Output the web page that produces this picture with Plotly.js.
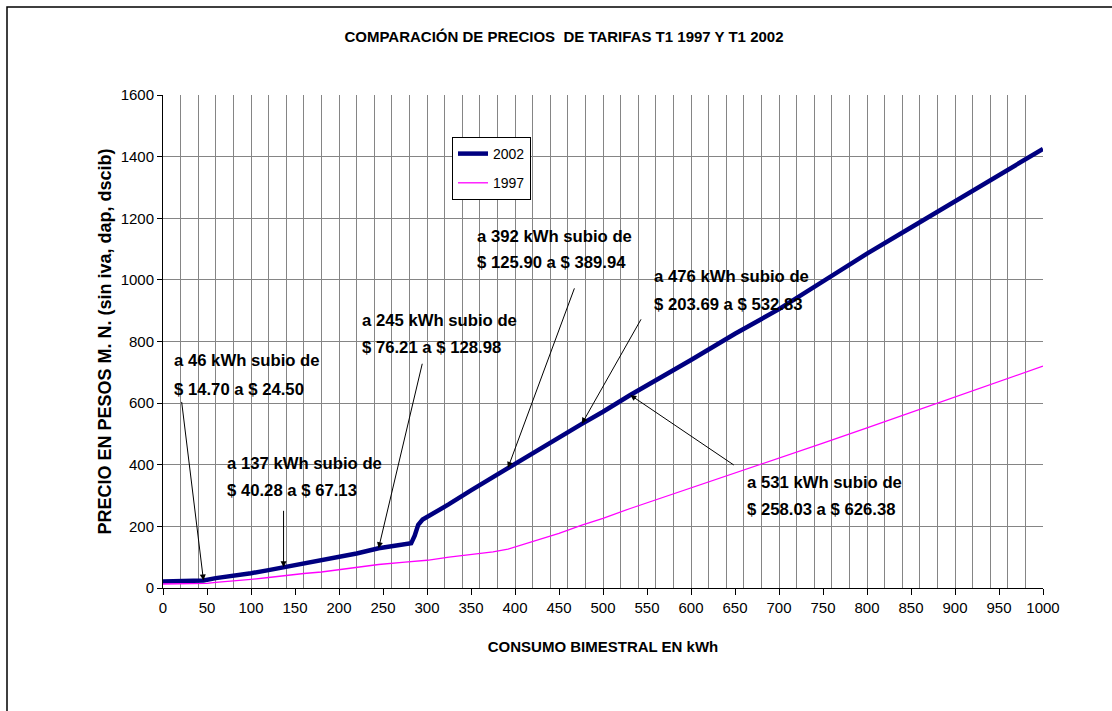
<!DOCTYPE html>
<html>
<head>
<meta charset="utf-8">
<script src="https://cdn.plot.ly/plotly-3.0.1.min.js"></script>
<style>html,body{margin:0;padding:0;background:#fff;}#chart{width:1112px;height:711px;}</style>
</head>
<body>
<div id="chart"></div>
<script>
// ---- data ----
const kwh2002 = [0, 40, 46, 60, 80, 100, 120, 137, 160, 180, 200, 220, 245, 260, 275, 282, 286, 290, 295, 300, 325, 350, 392, 425, 450, 476, 500, 531, 600, 650, 700, 750, 800, 850, 900, 950, 1000];
const price2002 = [21, 21, 24.5, 32, 39, 48, 58, 67.13, 80, 88, 100, 112, 128.98, 135, 140, 145, 170, 205, 222, 230, 272, 317, 389.94, 447, 490, 532.83, 572, 626.38, 740, 825, 905, 995, 1085, 1170, 1255, 1340, 1425];

const kwh1997 = [0, 46, 50, 60, 80, 100, 120, 137, 160, 180, 200, 220, 245, 275, 300, 325, 350, 375, 392, 410, 432, 450, 476, 500, 531, 600, 650, 700, 750, 800, 850, 900, 950, 1000];
const price1997 = [13, 14.70, 15, 18, 22, 28, 34, 40.28, 47, 52, 60, 66, 76.21, 84, 90, 100, 109, 117, 125.90, 141, 161, 177, 203.69, 226, 258.03, 325, 372, 420, 470, 520, 570, 620, 670, 720];

// annotated points
const annKwh = [46, 137, 245, 392, 476, 531];
const annOld = [14.70, 40.28, 76.21, 125.90, 203.69, 258.03];
const annNew = [24.50, 67.13, 128.98, 389.94, 532.83, 626.38];

const xTicks = [0,50,100,150,200,250,300,350,400,450,500,550,600,650,700,750,800,850,900,950,1000];
const yTicks = [0,200,400,600,800,1000,1200,1400,1600];

// ---- layout helpers (pixel geometry of plot area) ----
const L = 163, R = 69, T = 95, B = 123, W = 1112, H = 711;
const PW = W - L - R, PH = H - T - B;
const px2x = p => (p - L) / PW;
const py2y = p => (H - B - p) / PH;

const FONT = 'Liberation Sans, Arial, sans-serif';

// arrow tail offsets (pixels) and text positions (pixels)
const arrowOff = [[-22, -180], [0, -58], [44, -186], [67, -181], [60, -106], [105, 71]];
const textPos = [[172, 360, 389], [225, 463, 490], [360, 320, 347], [475, 236, 262], [652, 276, 304], [745, 482, 509]];

const annotations = [];
annKwh.forEach((k, i) => {
  annotations.push({
    x: k, y: annNew[i], xref: 'x', yref: 'y', text: '',
    showarrow: true, arrowhead: 2, arrowsize: 1.2, arrowwidth: 1, arrowcolor: '#000',
    ax: arrowOff[i][0], ay: arrowOff[i][1], standoff: 0
  });
  const tp = textPos[i];
  annotations.push({
    x: px2x(tp[0]), y: py2y(tp[1]), xref: 'paper', yref: 'paper',
    xanchor: 'left', yanchor: 'middle', showarrow: false,
    text: 'a ' + k + ' kWh subio de',
    font: {family: FONT, size: 16.7, color: '#000', weight: 'bold'}
  });
  annotations.push({
    x: px2x(tp[0]), y: py2y(tp[2]), xref: 'paper', yref: 'paper',
    xanchor: 'left', yanchor: 'middle', showarrow: false,
    text: '$ ' + annOld[i].toFixed(2) + ' a $ ' + annNew[i].toFixed(2),
    font: {family: FONT, size: 16.7, color: '#000', weight: 'bold'}
  });
});

const traces = [
  {x: kwh2002, y: price2002, type: 'scatter', mode: 'lines', name: '2002',
   line: {color: '#000080', width: 4.5}, legendgroup: 'a'},
  {x: kwh1997, y: price1997, type: 'scatter', mode: 'lines', name: '1997',
   line: {color: '#FF00FF', width: 1.3}, legendgroup: 'b'},
  {x: [], y: [], xaxis: 'x2', yaxis: 'y', showlegend: false, hoverinfo: 'skip'}
];

const layout = {
  width: W, height: H,
  margin: {l: L, r: R, t: T, b: B, pad: 0},
  paper_bgcolor: '#fff', plot_bgcolor: '#fff',
  font: {family: FONT, color: '#000', size: 14},
  showlegend: true,
  title: {
    text: '<b>COMPARACIÓN DE PRECIOS  DE TARIFAS T1 1997 Y T1 2002</b>',
    x: 564 / W, xref: 'container', xanchor: 'center',
    y: 1 - 37 / H, yref: 'container', yanchor: 'middle',
    font: {family: FONT, size: 15, color: '#000'}
  },
  xaxis: {
    range: [0, 1000], dtick: 20, tick0: 0, showgrid: true, gridcolor: '#858585', gridwidth: 1,
    showticklabels: false, ticks: '', zeroline: false,
    showline: true, linecolor: '#000', linewidth: 1, fixedrange: true
  },
  xaxis2: {
    overlaying: 'x', anchor: 'y', side: 'bottom',
    range: [0, 1000], tickmode: 'array', tickvals: xTicks, ticktext: xTicks.map(String),
    showgrid: false, zeroline: false, ticks: 'outside', ticklen: 6, tickcolor: '#000', tickwidth: 1,
    showline: false, tickfont: {size: 15},
    title: {text: '<b>CONSUMO BIMESTRAL EN kWh</b>', font: {size: 15}, standoff: 26}
  },
  yaxis: {
    range: [0, 1600], tickmode: 'array', tickvals: yTicks, ticktext: yTicks.map(String),
    showgrid: true, gridcolor: '#858585', gridwidth: 1, zeroline: false,
    ticks: 'outside', ticklen: 5, tickcolor: '#000', tickwidth: 1,
    showline: true, linecolor: '#000', linewidth: 1, tickfont: {size: 15},
    title: {text: '<b>PRECIO EN PESOS M. N. (sin iva, dap, dscib)</b>', font: {size: 18}, standoff: 4}
  },
  legend: {
    x: px2x(452), y: py2y(137), xanchor: 'left', yanchor: 'top',
    bgcolor: '#fff', bordercolor: '#000', borderwidth: 1,
    font: {size: 14}, traceorder: 'grouped', tracegroupgap: 8
  },
  shapes: [{
    type: 'rect', xref: 'paper', yref: 'paper',
    x0: px2x(7), x1: px2x(1130), y0: py2y(730), y1: py2y(7),
    line: {color: '#000', width: 1.5}, fillcolor: 'rgba(0,0,0,0)', layer: 'above'
  }],
  annotations: annotations
};

Plotly.newPlot('chart', traces, layout, {displayModeBar: false, staticPlot: true});
</script>
</body>
</html>
